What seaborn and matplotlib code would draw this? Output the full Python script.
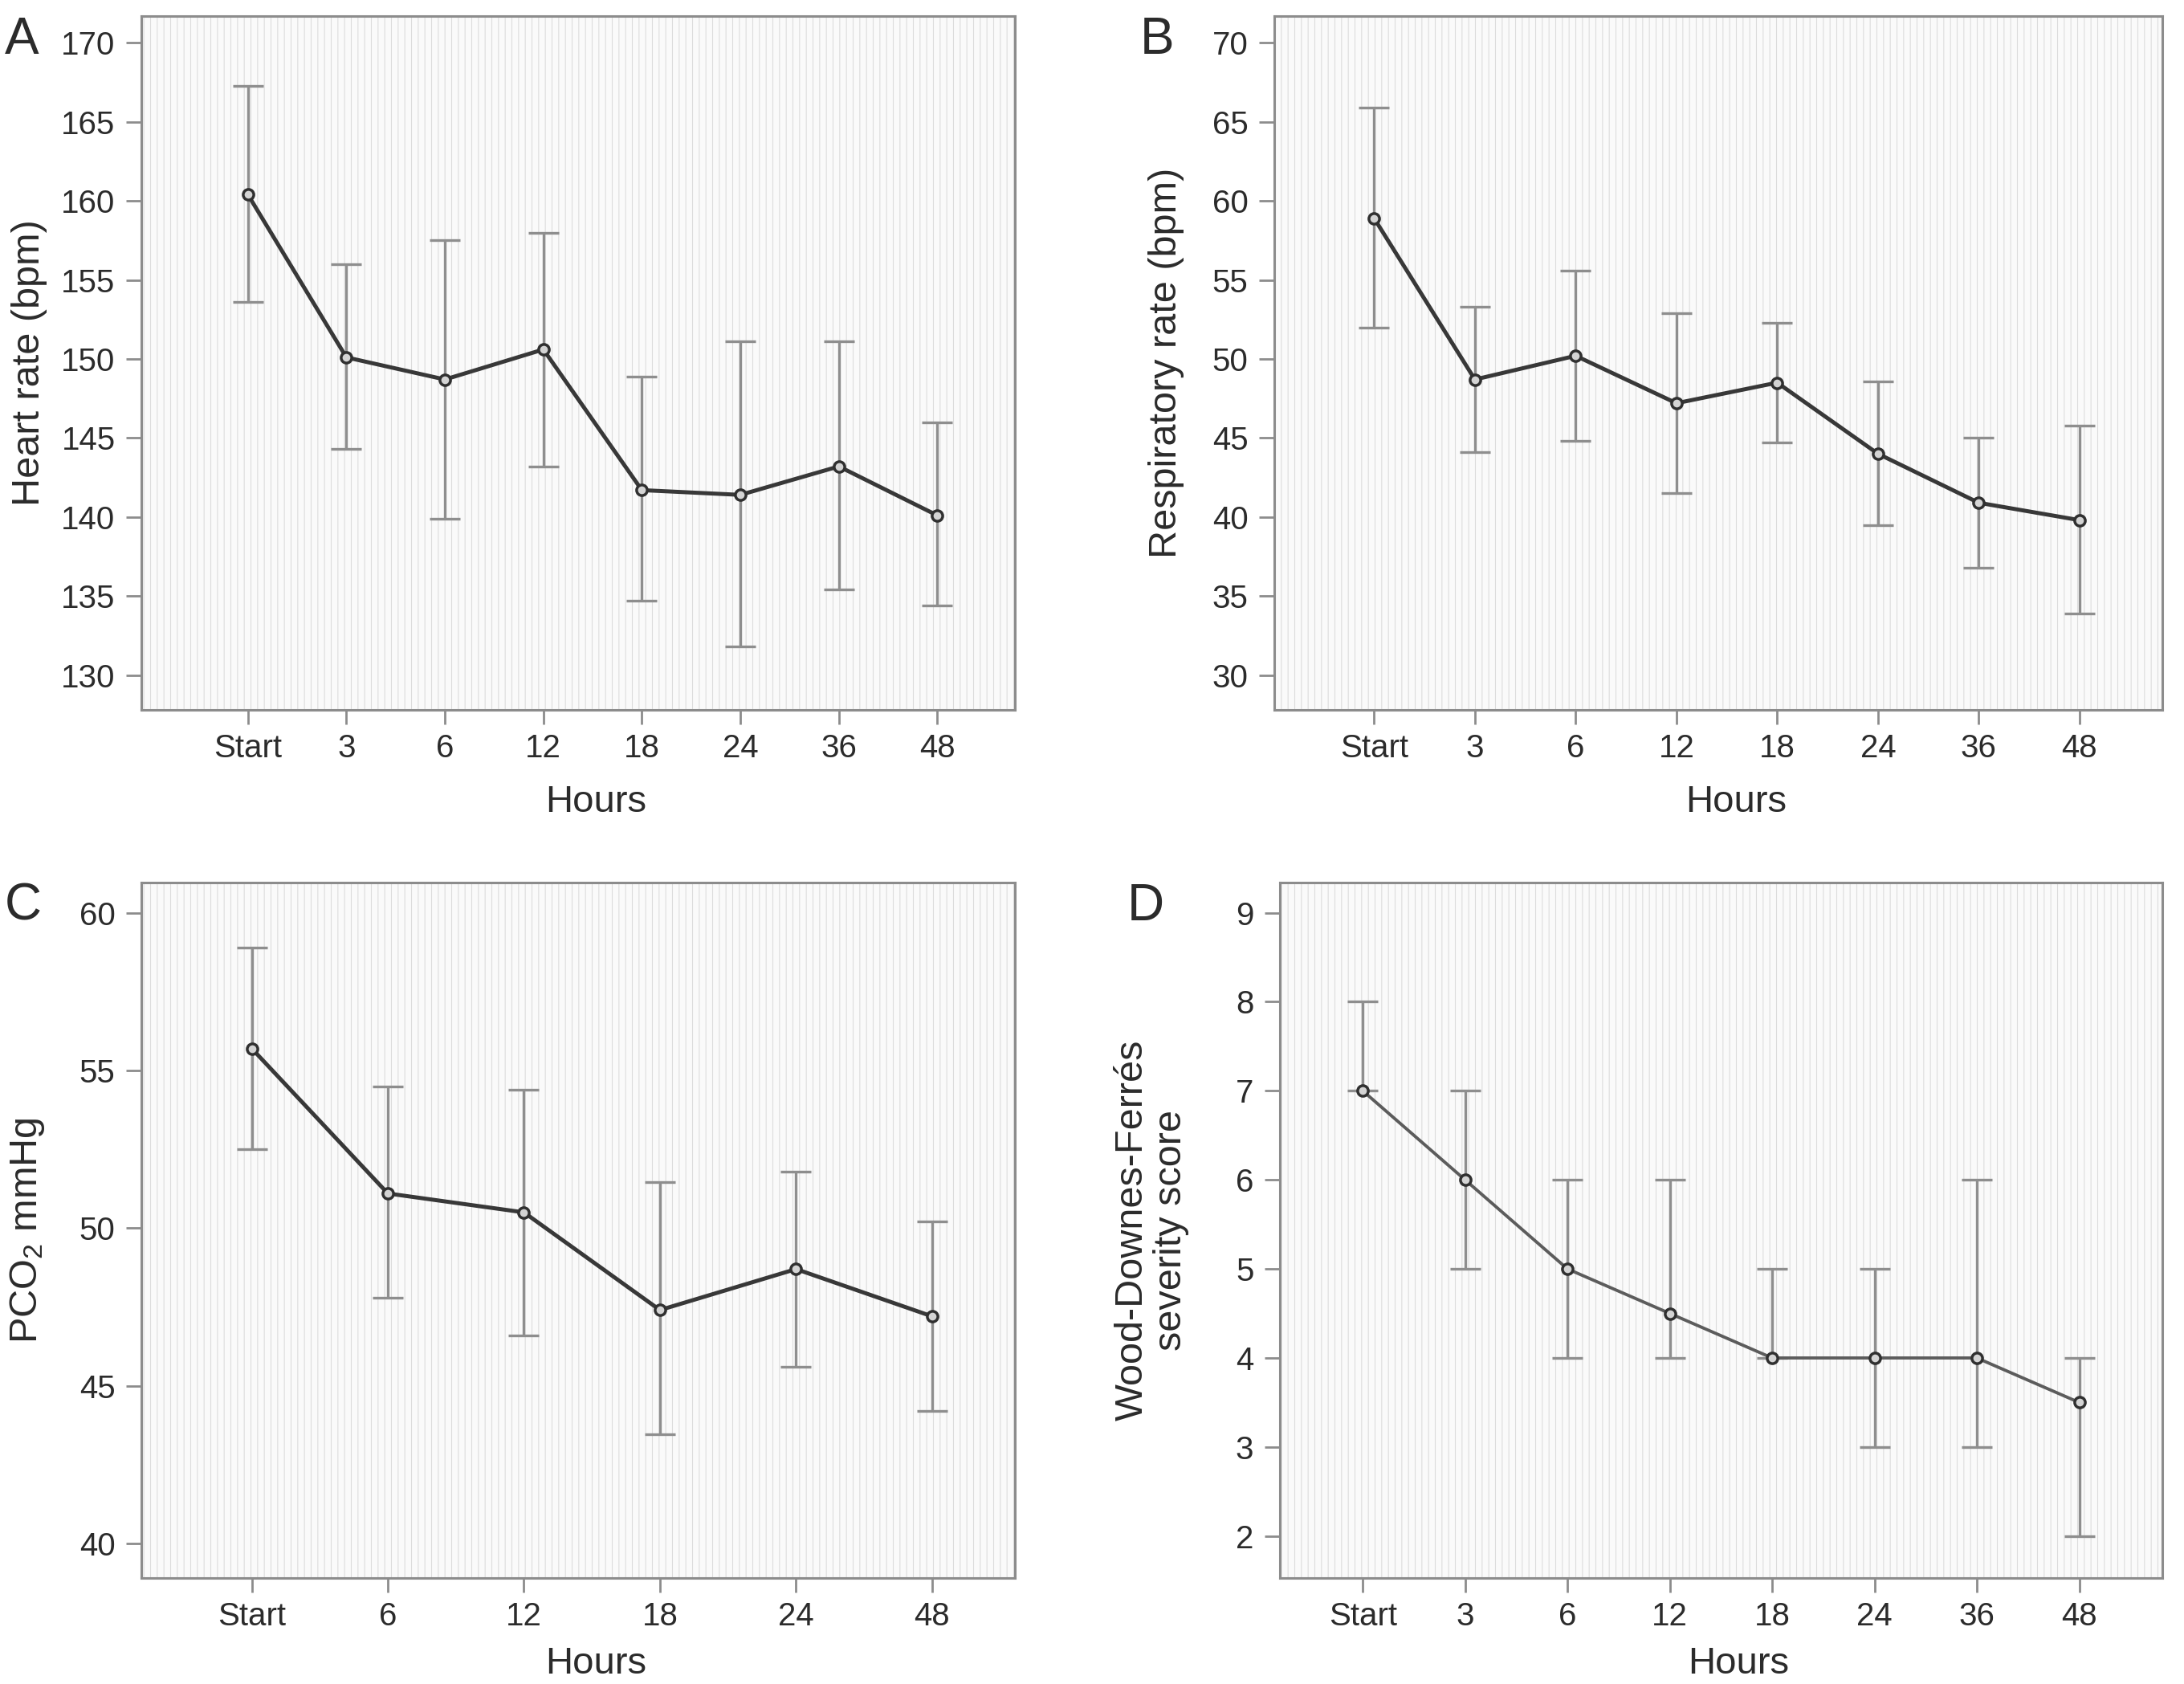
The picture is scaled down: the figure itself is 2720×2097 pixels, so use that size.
import numpy as np
import pandas as pd
import matplotlib
matplotlib.use("Agg")
import matplotlib.pyplot as plt
from matplotlib.patches import Rectangle
import seaborn as sns

# ---------------- data ----------------
hours8 = ["Start", "3", "6", "12", "18", "24", "36", "48"]
hours6 = ["Start", "6", "12", "18", "24", "48"]

hr_mean = [160.4, 150.1, 148.7, 150.6, 141.7, 141.4, 143.2, 140.1]
hr_low = [153.6, 144.3, 139.9, 143.2, 134.7, 131.8, 135.4, 134.4]
hr_high = [167.3, 156.0, 157.5, 158.0, 148.9, 151.1, 151.1, 146.0]

rr_mean = [58.9, 48.7, 50.2, 47.2, 48.5, 44.0, 40.9, 39.8]
rr_low = [52.0, 44.1, 44.8, 41.5, 44.7, 39.5, 36.8, 33.9]
rr_high = [65.9, 53.3, 55.6, 52.9, 52.3, 48.6, 45.0, 45.8]

pco2_mean = [55.7, 51.1, 50.5, 47.4, 48.7, 47.2]
pco2_low = [52.5, 47.8, 46.6, 43.45, 45.6, 44.2]
pco2_high = [58.9, 54.5, 54.4, 51.45, 51.8, 50.2]

wdf_mean = [7.0, 6.0, 5.0, 4.5, 4.0, 4.0, 4.0, 3.5]
wdf_low = [7.0, 5.0, 4.0, 4.0, 4.0, 3.0, 3.0, 2.0]
wdf_high = [8.0, 7.0, 6.0, 6.0, 5.0, 5.0, 6.0, 4.0]

# ---------------- style ----------------
sns.set_theme(style="white")
plt.rcParams["font.family"] = ["Liberation Sans", "DejaVu Sans"]
plt.rcParams["mathtext.default"] = "regular"
plt.rcParams["hatch.linewidth"] = 0.8

SPINE = "#8c8c8c"
TEXT = "#2b2b2b"

fig = plt.figure(figsize=(27.2, 20.97), dpi=100)

panels = [
    # letter, rect, cats, mean, low, high, ylim, yticks, ylabel, xlim, line colour, ylabel x, xlabel y
    ("A", [0.0648, 0.5785, 0.4000, 0.4120], hours8, hr_mean, hr_low, hr_high,
     (127.8, 171.7), np.arange(130, 171, 5), "Heart rate (bpm)", (-1.08, 7.79), "#383838", -0.128, -0.133),
    ("B", [0.5835, 0.5785, 0.4065, 0.4120], hours8, rr_mean, rr_low, rr_high,
     (27.8, 71.7), np.arange(30, 71, 5), "Respiratory rate (bpm)", (-0.99, 7.82), "#383838", -0.122, -0.133),
    ("C", [0.0648, 0.0630, 0.4000, 0.4130], hours6, pco2_mean, pco2_low, pco2_high,
     (38.9, 60.97), np.arange(40, 61, 5), "PCO$_2$ mmHg", (-0.81, 5.61), "#383838", -0.131, -0.124),
    ("D", [0.5860, 0.0630, 0.4040, 0.4130], hours8, wdf_mean, wdf_low, wdf_high,
     (1.53, 9.34), np.arange(2, 10, 1), "Wood-Downes-Ferrés\nseverity score", (-0.81, 7.81), "#5c5c5c", -0.145, -0.124),
]

for letter, rect, cats, mean, low, high, ylim, yticks, ylabel, xlim, lc, ylx, xly in panels:
    ax = fig.add_axes(rect)

    # SPSS-like striped plot background
    ax.add_patch(Rectangle((0, 0), 1, 1, transform=ax.transAxes, facecolor="#fafafa",
                           edgecolor="#dcdcdc", hatch="||", linewidth=0, zorder=0))

    df = pd.DataFrame({"hour": cats, "value": mean})
    mean = np.array(mean)
    yerr = [mean - np.array(low), np.array(high) - mean]
    ax.errorbar(np.arange(len(cats)), mean, yerr=yerr, fmt="none", ecolor="#8e8e8e",
                elinewidth=2.4, capsize=14, capthick=2.4, zorder=2)

    sns.pointplot(data=df, x="hour", y="value", order=cats, errorbar=None, color=lc,
                  markers="o", linestyles="-", linewidth=3.6 if letter != "D" else 2.8,
                  markersize=9.5, markeredgewidth=2.5, markerfacecolor="#d4d4d4",
                  markeredgecolor="#303030", ax=ax, zorder=3)

    ax.set_xlim(*xlim)
    ax.set_ylim(*ylim)
    ax.set_yticks(yticks)
    ax.set_yticklabels([str(v) for v in yticks])

    for s in ax.spines.values():
        s.set_visible(True)
        s.set_color(SPINE)
        s.set_linewidth(2.2)

    ax.tick_params(axis="y", left=True, length=13.5, width=2, color=SPINE, pad=10,
                   labelsize=29, labelcolor=TEXT)
    ax.tick_params(axis="x", bottom=True, length=13, width=2, color=SPINE, pad=8,
                   labelsize=29, labelcolor=TEXT)
    ax.grid(False)

    ax.set_xlabel("Hours", fontsize=34, color=TEXT)
    ax.xaxis.set_label_coords(0.52, xly)
    ax.xaxis.label.set_va("center")
    ax.set_ylabel(ylabel, fontsize=35, color=TEXT, linespacing=1.1)
    ax.yaxis.set_label_coords(ylx, 0.5)
    ax.yaxis.label.set_va("center")

    # panel letter
    ly = rect[1] + rect[3] - 0.0
    fig.text(0.002 if letter in "AC" else (0.522 if letter == "B" else 0.516), ly, letter,
             fontsize=46, color=TEXT, ha="left", va="top")

fig.savefig("out.png", dpi=100)
